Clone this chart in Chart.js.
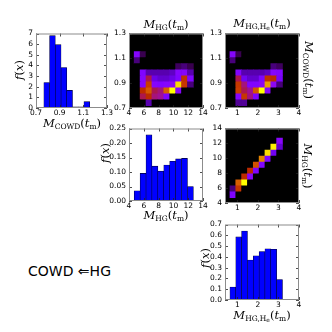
<!DOCTYPE html>
<html>
<head>
<meta charset="utf-8">
<script src="https://cdn.jsdelivr.net/npm/chart.js@4.4.0/dist/chart.umd.min.js"></script>
<style>
  html, body { margin: 0; padding: 0; background: #fff; }
  #fig { position: relative; width: 332px; height: 332px; overflow: hidden; }
  #fig canvas { position: absolute; }
  .lbl { position: absolute; font-family: 'DejaVu Serif', serif; font-style: italic; font-size: 11.5px;
         white-space: nowrap; line-height: 1; transform: translate(-50%, -50%); color: #000; }
  .lbl sub { font-size: 7.5px; font-style: normal; vertical-align: -2px; }
  .lbl sub sub { font-size: 6px; vertical-align: -1px; }
  .lbl .up { font-style: normal; }
  .rot90 { transform: translate(-50%, -50%) rotate(90deg); }
  .rotm90 { transform: translate(-50%, -50%) rotate(-90deg); }
  #tag { position: absolute; left: 28px; top: 263px; font-family: 'DejaVu Sans', sans-serif; font-size: 14px; white-space: nowrap; }
</style>
</head>
<body>
<div id="fig">
  <canvas id="cA"></canvas>
  <canvas id="cB"></canvas>
  <canvas id="cC"></canvas>
  <canvas id="cD"></canvas>
  <canvas id="cE"></canvas>
  <canvas id="cF"></canvas>

  <div class="lbl" style="left:166px;top:25px">M<sub>HG</sub><span class="up">(</span>t<sub>m</sub><span class="up">)</span></div>
  <div class="lbl" style="left:262px;top:24px">M<sub>HG,H<sub>e</sub></sub><span class="up">(</span>t<sub>m</sub><span class="up">)</span></div>
  <div class="lbl" style="left:72px;top:124px">M<sub>COWD</sub><span class="up">(</span>t<sub>m</sub><span class="up">)</span></div>
  <div class="lbl" style="left:166px;top:216px">M<sub>HG</sub><span class="up">(</span>t<sub>m</sub><span class="up">)</span></div>
  <div class="lbl" style="left:262px;top:316px">M<sub>HG,H<sub>e</sub></sub><span class="up">(</span>t<sub>m</sub><span class="up">)</span></div>
  <div class="lbl rot90" style="left:308px;top:70px">M<sub>COWD</sub><span class="up">(</span>t<sub>m</sub><span class="up">)</span></div>
  <div class="lbl rot90" style="left:307px;top:166px">M<sub>HG</sub><span class="up">(</span>t<sub>m</sub><span class="up">)</span></div>
  <div class="lbl rotm90" style="left:20px;top:70px">f<span class="up">(</span>x<span class="up">)</span></div>
  <div class="lbl rotm90" style="left:106px;top:153px">f<span class="up">(</span>x<span class="up">)</span></div>
  <div class="lbl rotm90" style="left:206px;top:258px">f<span class="up">(</span>x<span class="up">)</span></div>

  <div id="tag">COWD &#8656;HG</div>
</div>

<script>
// bin edges (shared by histograms and 2d maps)
const COWD_EDGES = [0.718, 0.7664, 0.8148, 0.8632, 0.9116, 0.96, 1.0084, 1.0568, 1.1052, 1.1536];
const HG_EDGES = [4.70, 5.50, 6.30, 7.10, 7.90, 8.70, 9.50, 10.30, 11.10, 11.90, 12.70];
const HE_EDGES = [0.64, 0.924, 1.208, 1.492, 1.776, 2.06, 2.344, 2.628, 2.912, 3.196];

// normalised histograms f(x)
const COWD_DENS = [0.05, 2.4, 6.8, 5.95, 3.8, 1.65, 0.1, 0.1, 0.6];
const HG_DENS = [0.035, 0.095, 0.228, 0.12, 0.103, 0.124, 0.137, 0.145, 0.147, 0.05];
const HE_DENS = [0.12, 0.585, 0.64, 0.37, 0.41, 0.45, 0.475, 0.47, 0.19];

// tick labels
const COWD_TICKS = [0.7, 0.9, 1.1, 1.3];
const HG_TICKS = [4, 6, 8, 10, 12, 14];
const HE_TICKS = [1, 2, 3, 4];
const FA_TICKS = [0, 1, 2, 3, 4, 5, 6, 7];
const FD_TICKS = [0, 0.05, 0.10, 0.15, 0.20, 0.25];
const FF_TICKS = [0, 0.1, 0.2, 0.3, 0.4, 0.5, 0.6, 0.7];

// 2d maps, relative density, rows = y bins from bottom, cols = x bins
const MAP_HG_COWD = [
  [0,    0,    0.12, 0,    0,    0,    0,    0,    0,    0],
  [0,    0.45, 0.55, 0.42, 0.4,  0.25, 0,    0,    0,    0],
  [0,    0.55, 0.7,  0.45, 0.42, 0.72, 1.0,  0.27, 0,    0],
  [0,    0.27, 0.62, 0.27, 0.25, 0.27, 0.3,  0.95, 0.6,  0.08],
  [0,    0.27, 0.45, 0.18, 0.15, 0.15, 0.18, 0.25, 0.58, 0.25],
  [0,    0.25, 0.12, 0.12, 0.12, 0.12, 0.14, 0.27, 0.27, 0.12],
  [0,    0,    0,    0,    0,    0,    0,    0.06, 0.08, 0.05],
  [0.08, 0,    0,    0,    0,    0,    0,    0,    0,    0],
  [0.27, 0.05, 0,    0,    0,    0,    0,    0,    0,    0]
];
const MAP_HE_COWD = [
  [0,    0.1,  0.1,  0,    0,    0,    0,    0,    0],
  [0,    0.27, 0.6,  0.42, 0.25, 0,    0,    0,    0],
  [0,    0.62, 0.45, 0.4,  0.7,  1.0,  0.27, 0,    0],
  [0,    0.6,  0.42, 0.25, 0.25, 0.3,  0.85, 0.3,  0.08],
  [0,    0.45, 0.2,  0.15, 0.15, 0.25, 0.58, 0.55, 0.22],
  [0,    0.25, 0.12, 0.12, 0.12, 0.12, 0.14, 0.27, 0.25],
  [0,    0,    0,    0,    0,    0,    0,    0.08, 0.06],
  [0.08, 0,    0,    0,    0,    0,    0,    0,    0],
  [0.27, 0.05, 0,    0,    0,    0,    0,    0,    0]
];
const MAP_HE_HG = [
  [0.25, 0,    0,    0,    0,    0,    0,    0,    0],
  [0.08, 0.6,  0,    0,    0,    0,    0,    0,    0],
  [0,    0.72, 1.0,  0,    0,    0,    0,    0,    0],
  [0,    0,    0.55, 0.28, 0,    0,    0,    0,    0],
  [0,    0,    0,    0.55, 0.25, 0,    0,    0,    0],
  [0,    0,    0,    0,    0.68, 0.25, 0,    0,    0],
  [0,    0,    0,    0,    0,    0.8,  0.25, 0,    0],
  [0,    0,    0,    0,    0,    0,    0.95, 0.2,  0],
  [0,    0,    0,    0,    0,    0,    0,    0.98, 0.15],
  [0,    0,    0,    0,    0,    0,    0,    0,    0.28]
];

const YW = 26, XH = 14, PT = 6, PR = 10;

function mids(edges) {
  return edges.slice(0, -1).map((e, i) => (e + edges[i + 1]) / 2);
}

// matplotlib 'gnuplot' colour map
function gnuplot(t) {
  const r = Math.sqrt(t), g = t * t * t, b = Math.max(0, Math.sin(2 * Math.PI * t));
  return 'rgb(' + Math.round(255 * r) + ',' + Math.round(255 * g) + ',' + Math.round(255 * b) + ')';
}

// box round the plot area, inward ticks, optional black background
const frame = {
  id: 'frame',
  beforeDatasetsDraw(chart, args, opts) {
    if (!opts.fill) return;
    const a = chart.chartArea, ctx = chart.ctx;
    ctx.save();
    ctx.fillStyle = opts.fill;
    ctx.fillRect(a.left, a.top, a.right - a.left, a.bottom - a.top);
    ctx.restore();
  },
  afterDatasetsDraw(chart) {
    const a = chart.chartArea, ctx = chart.ctx;
    const xs = chart.scales.x, ys = chart.scales.y;
    ctx.save();
    ctx.strokeStyle = '#222';
    ctx.lineWidth = 0.8;
    ctx.beginPath();
    xs.ticks.forEach(t => {
      const p = Math.round(xs.getPixelForValue(t.value)) + 0.5;
      ctx.moveTo(p, a.bottom); ctx.lineTo(p, a.bottom - 3);
      ctx.moveTo(p, a.top); ctx.lineTo(p, a.top + 3);
    });
    ys.ticks.forEach(t => {
      const p = Math.round(ys.getPixelForValue(t.value)) + 0.5;
      ctx.moveTo(a.left, p); ctx.lineTo(a.left + 3, p);
      ctx.moveTo(a.right, p); ctx.lineTo(a.right - 3, p);
    });
    ctx.stroke();
    ctx.strokeStyle = '#8c8c8c';
    ctx.lineWidth = 1;
    ctx.strokeRect(a.left + 0.5, a.top + 0.5, a.right - a.left - 1, a.bottom - a.top - 1);
    ctx.restore();
  }
};

function axis(dir, min, max, ticks, dec) {
  return {
    type: 'linear',
    position: dir === 'x' ? 'bottom' : 'left',
    min: min,
    max: max,
    offset: false,
    grid: { display: false, drawTicks: false, offset: false },
    border: { display: false },
    ticks: {
      font: { family: 'DejaVu Sans', size: 7.5 },
      color: '#000',
      padding: dir === 'x' ? 1 : 3,
      maxRotation: 0,
      autoSkip: false,
      callback: v => Number(v).toFixed(dec)
    },
    afterBuildTicks: s => { s.ticks = ticks.map(v => ({ value: v })); },
    afterFit: s => { if (dir === 'x') s.height = XH; else s.width = YW; }
  };
}

function baseOptions(x, y, fill) {
  return {
    responsive: false,
    maintainAspectRatio: false,
    animation: false,
    events: [],
    layout: { padding: { left: 0, top: PT, right: PR, bottom: 0 } },
    plugins: { legend: { display: false }, tooltip: { enabled: false }, frame: { fill: fill } },
    scales: { x: x, y: y }
  };
}

// size the canvas so the plot area lands on the wanted box of the page
function make(id, box, config) {
  const c = document.getElementById(id);
  c.width = YW + box[2] + PR;
  c.height = PT + box[3] + XH;
  const chart = new Chart(c, config);
  for (let k = 0; k < 4; k++) {
    const a = chart.chartArea;
    const dw = Math.round(box[2] - (a.right - a.left));
    const dh = Math.round(box[3] - (a.bottom - a.top));
    if (!dw && !dh) break;
    chart.resize(chart.width + dw, chart.height + dh);
  }
  const a = chart.chartArea;
  c.style.left = Math.round(box[0] - a.left) + 'px';
  c.style.top = Math.round(box[1] - a.top) + 'px';
  return chart;
}

function hist(id, box, edges, dens, x, y) {
  const m = mids(edges);
  return make(id, box, {
    type: 'bar',
    data: {
      datasets: [{
        data: m.map((v, i) => ({ x: v, y: dens[i] })),
        backgroundColor: '#0000ff',
        borderColor: '#000033',
        borderWidth: 0.6,
        borderSkipped: false,
        barPercentage: 1,
        categoryPercentage: 1
      }]
    },
    options: baseOptions(x, y, null),
    plugins: [frame]
  });
}

function heat(id, box, xEdges, yEdges, grid, x, y) {
  const m = mids(xEdges);
  const datasets = grid.map((row, r) => ({
    data: row.map((v, c) => ({ x: m[c], y: [yEdges[r], yEdges[r + 1]] })),
    backgroundColor: row.map(v => gnuplot(v)),
    borderWidth: 0,
    grouped: false,
    barPercentage: 1,
    categoryPercentage: 1
  }));
  return make(id, box, {
    type: 'bar',
    data: { datasets: datasets },
    options: baseOptions(x, y, '#000'),
    plugins: [frame]
  });
}

hist('cA', [36, 33, 71, 74], COWD_EDGES, COWD_DENS,
  axis('x', 0.7, 1.3, COWD_TICKS, 1), axis('y', 0, 7, FA_TICKS, 0));
heat('cB', [129, 33, 74, 74], HG_EDGES, COWD_EDGES, MAP_HG_COWD,
  axis('x', 4, 14, HG_TICKS, 0), axis('y', 0.7, 1.3, COWD_TICKS, 1));
heat('cC', [225, 33, 74, 74], HE_EDGES, COWD_EDGES, MAP_HE_COWD,
  axis('x', 0.4, 4, HE_TICKS, 0), axis('y', 0.7, 1.3, COWD_TICKS, 1));
hist('cD', [129, 128, 74, 72], HG_EDGES, HG_DENS,
  axis('x', 4, 14, HG_TICKS, 0), axis('y', 0, 0.25, FD_TICKS, 2));
heat('cE', [225, 128, 74, 74], HE_EDGES, HG_EDGES, MAP_HE_HG,
  axis('x', 0.4, 4, HE_TICKS, 0), axis('y', 4, 14, HG_TICKS, 0));
hist('cF', [225, 224, 74, 75], HE_EDGES, HE_DENS,
  axis('x', 0.4, 4, HE_TICKS, 0), axis('y', 0, 0.7, FF_TICKS, 1));
</script>
</body>
</html>
